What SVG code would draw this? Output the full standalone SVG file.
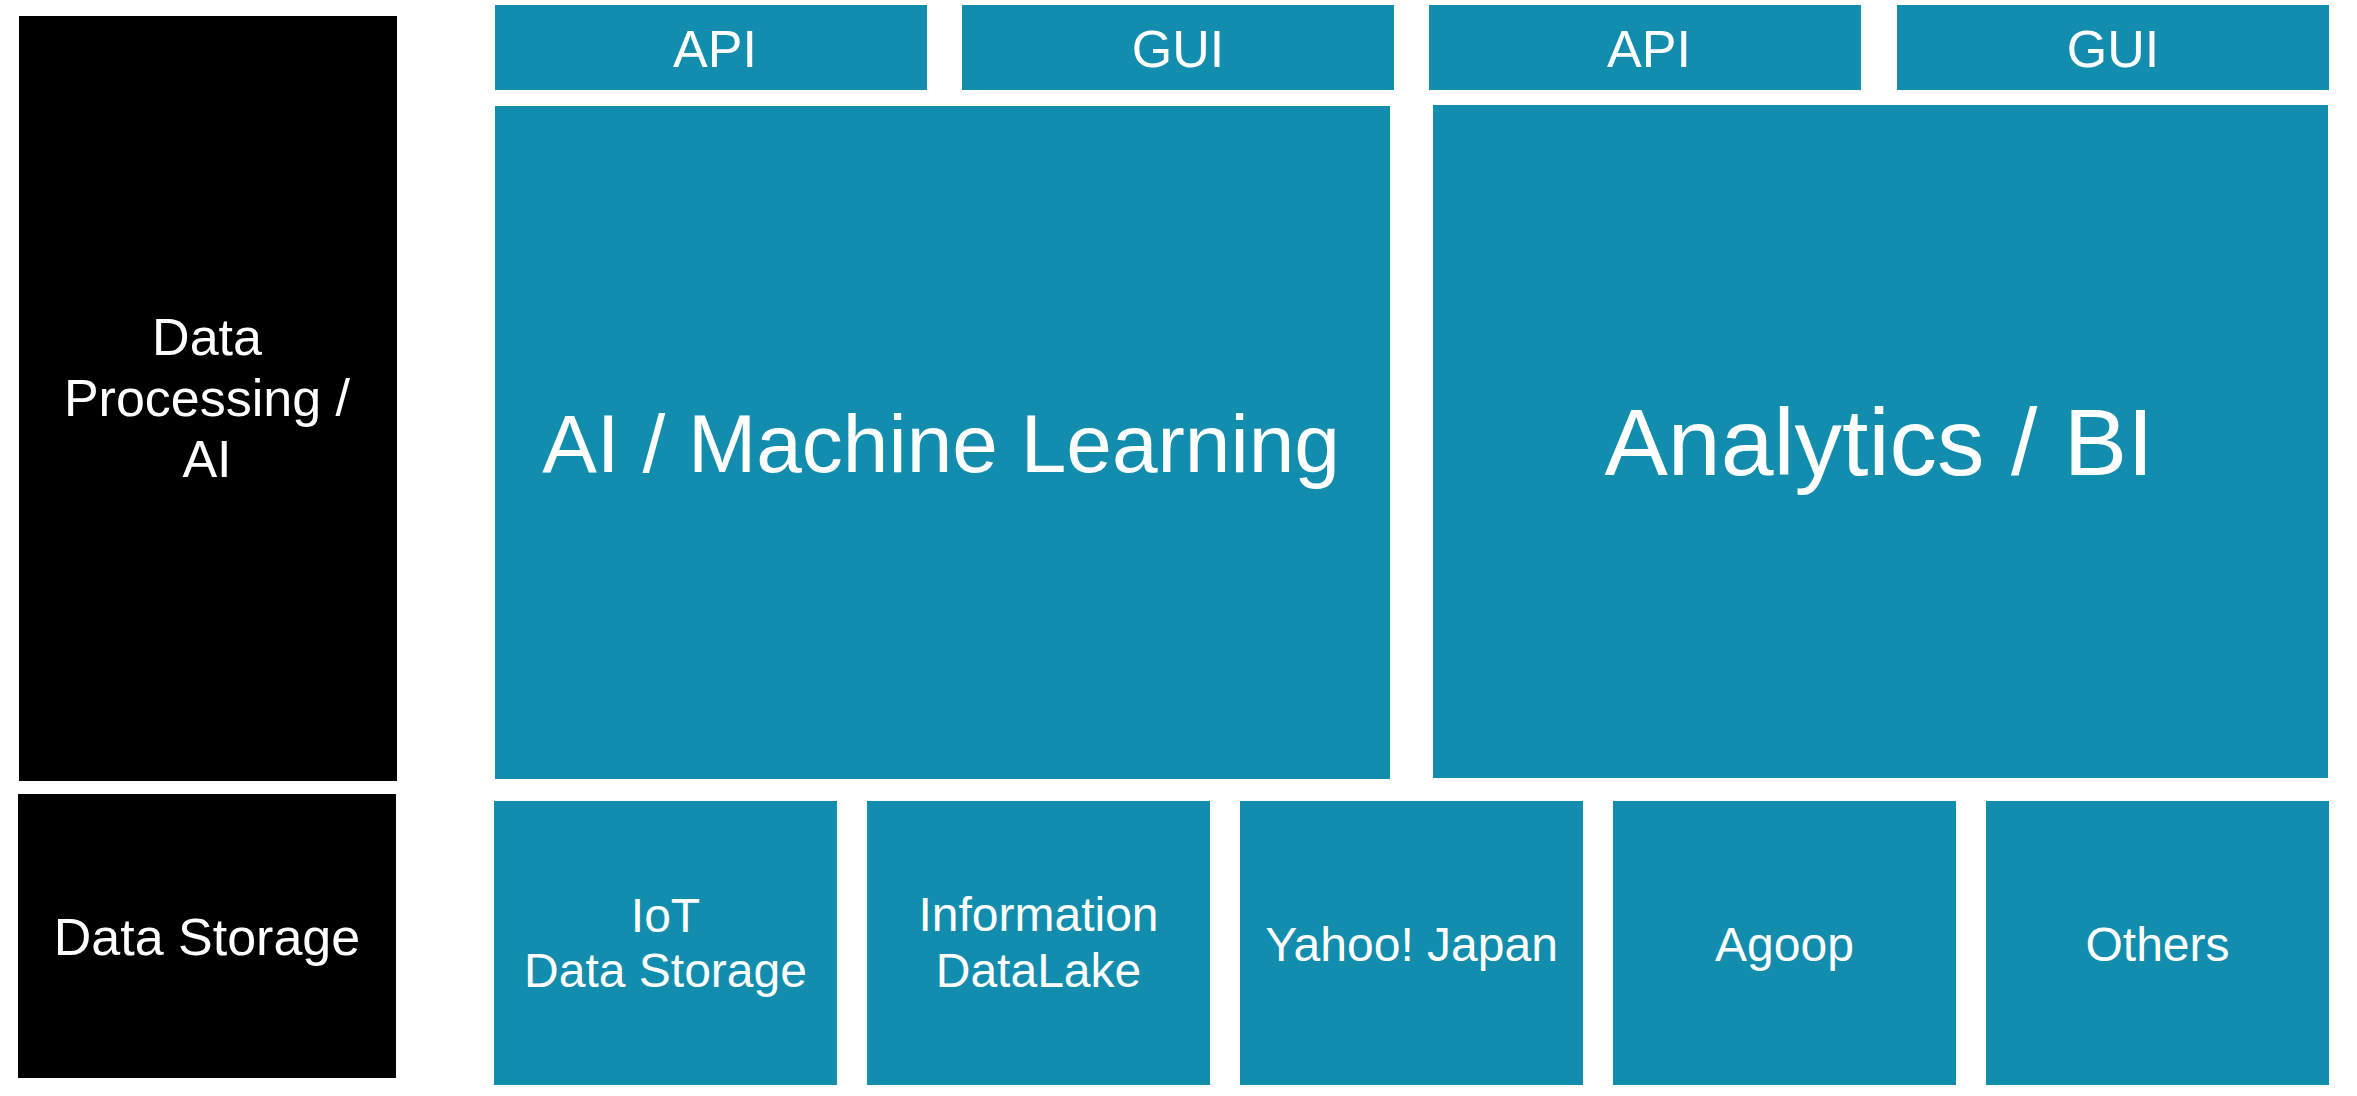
<svg xmlns="http://www.w3.org/2000/svg" width="2357" height="1096" viewBox="0 0 2357 1096">
<style>
.t{fill:#128DAD}
.k{fill:#000000}
text{font-family:"Liberation Sans",Arial,sans-serif;fill:#ffffff;text-anchor:middle}
.s52{font-size:52px}
.s48{font-size:48px}
</style>
<rect width="2357" height="1096" fill="#ffffff"/>
<g id="layer-processing">
<rect class="k" x="19" y="16" width="378" height="765"/>
<text class="s52" x="207" y="355">Data</text>
<text class="s52" x="207" y="416">Processing /</text>
<text class="s52" x="207" y="477">AI</text>
</g>
<g id="layer-storage">
<rect class="k" x="18" y="794" width="378" height="284"/>
<text class="s52" x="207" y="955">Data Storage</text>
</g>
<g id="api1">
<rect class="t" x="495" y="5" width="432" height="85"/>
<text class="s52" x="715" y="67">API</text>
</g>
<g id="gui1">
<rect class="t" x="962" y="5" width="432" height="85"/>
<text class="s52" x="1178" y="67">GUI</text>
</g>
<g id="api2">
<rect class="t" x="1429" y="5" width="432" height="85"/>
<text class="s52" x="1649" y="67">API</text>
</g>
<g id="gui2">
<rect class="t" x="1897" y="5" width="432" height="85"/>
<text class="s52" x="2113" y="67">GUI</text>
</g>
<g id="ai-ml">
<rect class="t" x="495" y="106" width="895" height="673"/>
<text x="941" y="472" font-size="82">AI / Machine Learning</text>
</g>
<g id="analytics-bi">
<rect class="t" x="1433" y="105" width="895" height="673"/>
<text x="1879" y="475" font-size="95">Analytics / BI</text>
</g>
<g id="iot">
<rect class="t" x="494" y="801" width="343" height="284"/>
<text class="s48" x="665.5" y="932">IoT</text>
<text class="s48" x="665.5" y="987">Data Storage</text>
</g>
<g id="info-datalake">
<rect class="t" x="867" y="801" width="343" height="284"/>
<text class="s48" x="1038.5" y="931">Information</text>
<text class="s48" x="1038.5" y="987">DataLake</text>
</g>
<g id="yahoo">
<rect class="t" x="1240" y="801" width="343" height="284"/>
<text class="s48" x="1411.5" y="961">Yahoo! Japan</text>
</g>
<g id="agoop">
<rect class="t" x="1613" y="801" width="343" height="284"/>
<text class="s48" x="1784.5" y="961">Agoop</text>
</g>
<g id="others">
<rect class="t" x="1986" y="801" width="343" height="284"/>
<text class="s48" x="2157.5" y="961">Others</text>
</g>
<g id="connectors"></g>
</svg>
